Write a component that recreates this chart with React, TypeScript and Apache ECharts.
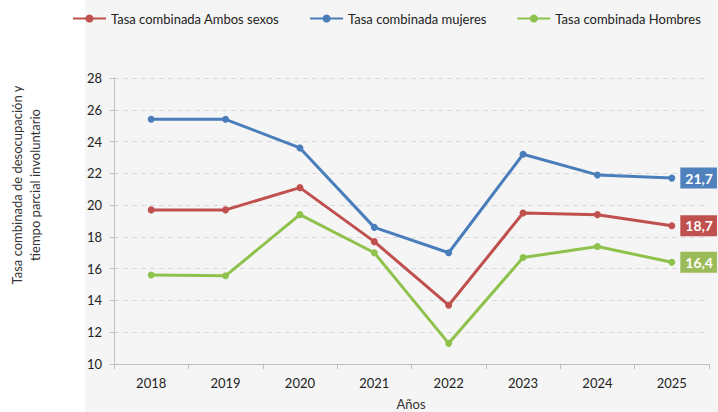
import React, { useEffect, useRef } from "react";
import * as echarts from "echarts";

const years = ["2018", "2019", "2020", "2021", "2022", "2023", "2024", "2025"];
const ambos = [19.7, 19.7, 21.1, 17.7, 13.7, 19.5, 19.4, 18.7];
const mujeres = [25.4, 25.4, 23.6, 18.6, 17.0, 23.2, 21.9, 21.7];
const hombres = [15.6, 15.55, 19.4, 17.0, 11.3, 16.7, 17.4, 16.4];

const FONT = "Lato, 'Liberation Sans', sans-serif";

function buildData(values: number[], labelBg: string) {
  const last = values.length - 1;
  return values.map((v, i) =>
    i === last
      ? {
          value: v,
          label: {
            show: true,
            position: "right",
            distance: 5,
            formatter: (p: any) => Number(p.value).toFixed(1).replace(".", ","),
            backgroundColor: labelBg,
            color: "#ffffff",
            fontWeight: "bold",
            fontSize: 14,
            fontFamily: FONT,
            padding: [4, 4, 3, 5],
          },
        }
      : v
  );
}

export default function App() {
  const ref = useRef<HTMLDivElement>(null);
  useEffect(() => {
    document.body.style.margin = "0";
    const chart = echarts.init(ref.current!, undefined, { renderer: "svg" });
    const mkSeries = (name: string, values: number[], color: string, labelBg: string) => ({
      name,
      type: "line",
      data: buildData(values, labelBg),
      symbol: "circle",
      symbolSize: 7,
      lineStyle: { width: 3, color },
      itemStyle: { color },
      emphasis: { disabled: true },
      z: 3,
    });
    chart.setOption({
      animation: false,
      backgroundColor: "#ffffff",
      textStyle: { fontFamily: FONT },
      graphic: [
        {
          type: "rect",
          z: -10,
          silent: true,
          shape: { x: 85, y: 0, width: 633, height: 412 },
          style: { fill: "#f5f5f5" },
        },
        {
          type: "text",
          x: 26,
          y: 185,
          rotation: Math.PI / 2,
          style: {
            text: "Tasa combinada de desocupación y\ntiempo parcial involuntario",
            fill: "#333333",
            font: `13px ${FONT}`,
            align: "center",
            verticalAlign: "middle",
            lineHeight: 18,
          },
        },
        {
          type: "text",
          x: 411,
          y: 404,
          style: {
            text: "Años",
            fill: "#333333",
            font: `13px ${FONT}`,
            align: "center",
            verticalAlign: "middle",
          },
        },
      ],
      legend: {
        left: 67,
        top: 7,
        itemWidth: 33,
        itemHeight: 10,
        itemGap: 30,
        textStyle: { fontSize: 13, color: "#222222", fontFamily: FONT },
        data: ["Tasa combinada Ambos sexos", "Tasa combinada mujeres", "Tasa combinada Hombres"],
      },
      grid: { left: 114, right: 9, top: 78, bottom: 48, containLabel: false },
      xAxis: {
        type: "category",
        data: years,
        boundaryGap: true,
        axisLine: { show: true, lineStyle: { color: "#bfbfbf", width: 1 } },
        axisTick: { show: true, length: 5, lineStyle: { color: "#bfbfbf" } },
        axisLabel: { fontSize: 13, color: "#222222", margin: 12, fontFamily: FONT },
        splitLine: { show: false },
      },
      yAxis: {
        type: "value",
        min: 10,
        max: 28,
        interval: 2,
        axisLine: { show: true, lineStyle: { color: "#bfbfbf", width: 1 } },
        axisTick: { show: true, length: 4, lineStyle: { color: "#bfbfbf" } },
        axisLabel: { fontSize: 13, color: "#222222", margin: 12, fontFamily: FONT },
        splitLine: { show: true, lineStyle: { color: "#d9d9d9", type: [5, 4], width: 1 } },
      },
      series: [
        mkSeries("Tasa combinada Ambos sexos", ambos, "#c0504d", "#c0504d"),
        mkSeries("Tasa combinada mujeres", mujeres, "#4a7ebb", "#4f81bd"),
        mkSeries("Tasa combinada Hombres", hombres, "#8fc24c", "#9bbb59"),
      ],
    });
    return () => chart.dispose();
  }, []);
  return <div ref={ref} style={{ width: 718, height: 412 }} />;
}
